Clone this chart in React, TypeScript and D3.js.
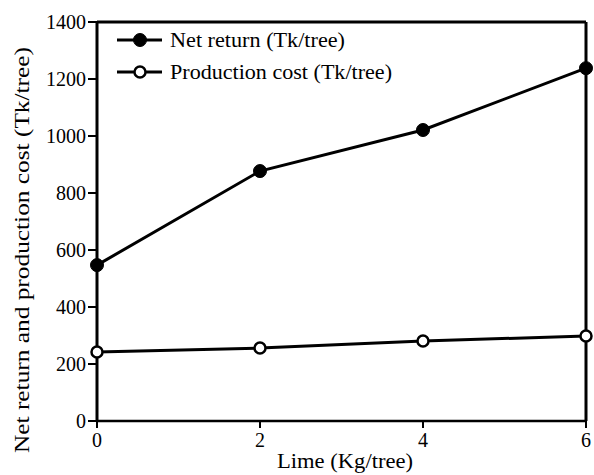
import * as d3 from "d3";
import React from "react";

// lime doses and the two series
const limeDoses = [0, 2, 4, 6];
const netReturn = [547, 877, 1021, 1238];
const productionCost = [242, 256, 281, 298];
const yTicks = [0, 200, 400, 600, 800, 1000, 1200, 1400];
const xTicks = [0, 2, 4, 6];
const legendLabels = ["Net return (Tk/tree)", "Production cost (Tk/tree)"];
const legendWidths = [175, 222];

const App = () => {
    const width = 594;
    const height = 475;
    const margin = { top: 22, right: 8, bottom: 54, left: 97 };
    const font = "'Liberation Serif', 'Times New Roman', serif";
    const textStyle = { fontFamily: font };

    const xScale = d3.scaleLinear()
        .domain([0, 6])
        .range([margin.left, width - margin.right]);

    const yScale = d3.scaleLinear()
        .domain([0, 1400])
        .range([height - margin.bottom, margin.top]);

    const lineBuilder = d3.line<number>()
        .x((_, i) => xScale(limeDoses[i]))
        .y((d) => yScale(d));

    const series = [
        { values: netReturn, filled: true },
        { values: productionCost, filled: false },
    ];

    const x0 = xScale(0);
    const x1 = xScale(6);
    const y0 = yScale(0);
    const y1 = yScale(1400);

    return (
        <svg width={width} height={height} style={{ position: "absolute", left: 0, top: 0, background: "#fff" }}>
            {/* frame */}
            <line x1={x0} x2={x1} y1={y0} y2={y0} stroke="#000" strokeWidth={2.5} />
            <line x1={x0} x2={x1} y1={y1} y2={y1} stroke="#000" strokeWidth={3} />
            <line x1={x0} x2={x0} y1={y1} y2={y0} stroke="#000" strokeWidth={3} />
            <line x1={x1} x2={x1} y1={y1} y2={y0} stroke="#000" strokeWidth={3} />

            {/* y axis */}
            {yTicks.map((t) => (
                <g key={t}>
                    <line x1={x0 - 9} x2={x0} y1={yScale(t)} y2={yScale(t)} stroke="#000" strokeWidth={2} />
                    <text x={x0 - 11} y={yScale(t)} dy="0.35em" textAnchor="end" style={textStyle} fontSize={20} fill="#000">
                        {t}
                    </text>
                </g>
            ))}

            {/* x axis */}
            {xTicks.map((t) => (
                <g key={t}>
                    <line x1={xScale(t)} x2={xScale(t)} y1={y0} y2={y0 + 7} stroke="#000" strokeWidth={2} />
                    <text x={xScale(t)} y={y0 + 26} textAnchor="middle" style={textStyle} fontSize={20} fill="#000">
                        {t}
                    </text>
                </g>
            ))}

            <text
                x={277}
                y={468}
                textLength={136}
                lengthAdjust="spacingAndGlyphs"
                style={textStyle}
                fontSize={20}
                fill="#000"
            >
                Lime (Kg/tree)
            </text>
            <text
                transform="translate(29, 453) rotate(-90)"
                textLength={406}
                lengthAdjust="spacingAndGlyphs"
                style={textStyle}
                fontSize={21}
                fill="#000"
            >
                Net return and production cost (Tk/tree)
            </text>

            {/* series */}
            {series.map((s, si) => (
                <g key={si}>
                    <path d={lineBuilder(s.values) ?? ""} stroke="#000" fill="none" strokeWidth={3} />
                    {s.values.map((v, i) => (
                        <circle
                            key={i}
                            cx={xScale(limeDoses[i])}
                            cy={yScale(v)}
                            r={s.filled ? 6.5 : 5.5}
                            fill={s.filled ? "#000" : "#fff"}
                            stroke="#000"
                            strokeWidth={s.filled ? 1 : 2.5}
                        />
                    ))}
                </g>
            ))}

            {/* legend */}
            {legendLabels.map((label, i) => {
                const ly = 40 + i * 32;
                return (
                    <g key={label}>
                        <line x1={117} x2={162} y1={ly} y2={ly} stroke="#000" strokeWidth={3} />
                        <circle
                            cx={140}
                            cy={ly}
                            r={i === 0 ? 6.5 : 5.5}
                            fill={i === 0 ? "#000" : "#fff"}
                            stroke="#000"
                            strokeWidth={i === 0 ? 1 : 2.5}
                        />
                        <text
                            x={170}
                            y={ly}
                            dy="0.35em"
                            textLength={legendWidths[i]}
                            lengthAdjust="spacingAndGlyphs"
                            style={textStyle}
                            fontSize={20}
                            fill="#000"
                        >
                            {label}
                        </text>
                    </g>
                );
            })}
        </svg>
    );
};

export default App;
